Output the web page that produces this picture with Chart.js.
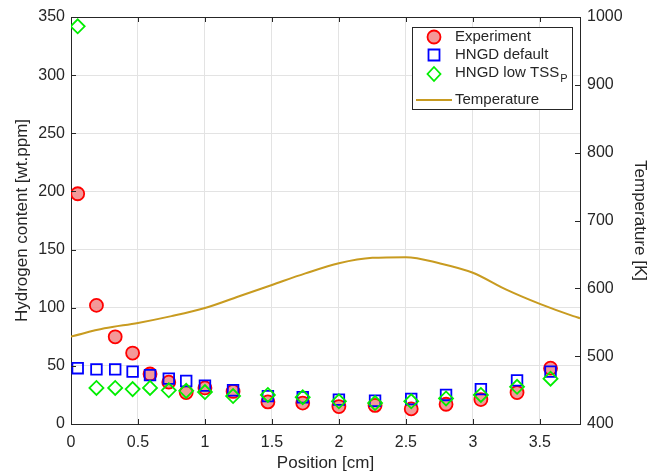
<!DOCTYPE html>
<html>
<head>
<meta charset="utf-8">
<script src="https://cdn.jsdelivr.net/npm/chart.js@4.4.1/dist/chart.umd.min.js"></script>
<style>
  body { margin: 0; background: #fff; }
  #wrap { width: 660px; height: 476px; }
</style>
</head>
<body>
<div id="wrap"><canvas id="chart" width="660" height="476"></canvas></div>
<script>
// positions along the sample [cm]
const positions = [0.05, 0.19, 0.33, 0.46, 0.59, 0.73, 0.86, 1.0, 1.21, 1.47, 1.73, 2.0, 2.27, 2.54, 2.80, 3.06, 3.33, 3.58];
// hydrogen content [wt.ppm]
const experiment = [198, 102, 75, 61, 43, 36, 27, 31, 28, 19, 18, 15, 16, 13, 17, 21, 27, 48];
const hngdDefault = [48, 47, 47, 45, 42, 39, 37, 33, 29, 24, 23, 21, 20, 21.5, 25, 30, 37.5, 45];
const hngdLowTss = [342, 31, 31, 30, 31, 29, 28.5, 27.5, 24, 25, 23, 19.5, 18, 19.5, 22, 25, 32, 39];

// temperature profile [K]
const tempX = [0, 0.25, 0.5, 0.75, 1.0, 1.25, 1.5, 1.75, 2.0, 2.25, 2.5, 2.75, 3.0, 3.25, 3.5, 3.75, 3.8];
const tempK = [529, 541, 549, 559, 571, 588, 605, 622, 637, 645, 646, 637, 623, 598, 577, 559, 556];

const xTicks = [0, 0.5, 1, 1.5, 2, 2.5, 3, 3.5];
const yTicks = [0, 50, 100, 150, 200, 250, 300, 350];
const y2Ticks = [400, 500, 600, 700, 800, 900, 1000];

const AXIS = '#262626';
const GRID = '#e3e3e3';
const TEMP_COLOR = '#c89b20';
const RED_FILL = 'rgba(240,128,128,0.8)';
const FONT = 'Liberation Sans, Arial, sans-serif';

const pts = ys => positions.map((x, i) => ({ x: x, y: ys[i] }));

// inward tick marks plus the top edge of the box
const boxTicks = {
  id: 'boxTicks',
  afterDraw(chart) {
    const { ctx, chartArea: a, scales } = chart;
    ctx.save();
    ctx.strokeStyle = AXIS;
    ctx.lineWidth = 1;
    ctx.beginPath();
    ctx.moveTo(a.left, a.top + 0.5);
    ctx.lineTo(a.right, a.top + 0.5);
    xTicks.forEach(v => {
      const px = Math.round(scales.x.getPixelForValue(v)) + 0.5;
      ctx.moveTo(px, a.bottom); ctx.lineTo(px, a.bottom - 5);
      ctx.moveTo(px, a.top); ctx.lineTo(px, a.top + 5);
    });
    yTicks.forEach(v => {
      const py = Math.round(scales.y.getPixelForValue(v)) + 0.5;
      ctx.moveTo(a.left, py); ctx.lineTo(a.left + 5, py);
    });
    y2Ticks.forEach(v => {
      const py = Math.round(scales.y2.getPixelForValue(v)) + 0.5;
      ctx.moveTo(a.right, py); ctx.lineTo(a.right - 5, py);
    });
    ctx.stroke();
    ctx.restore();
  }
};

function marker(ctx, style, x, y) {
  ctx.beginPath();
  if (style === 'circle') {
    ctx.arc(x, y, 6.5, 0, Math.PI * 2);
    ctx.fillStyle = RED_FILL;
    ctx.fill();
    ctx.strokeStyle = '#ff0000';
  } else if (style === 'rect') {
    ctx.rect(x - 5.5, y - 5.5, 11, 11);
    ctx.strokeStyle = '#0000ff';
  } else {
    ctx.moveTo(x, y - 7); ctx.lineTo(x + 6.5, y); ctx.lineTo(x, y + 7); ctx.lineTo(x - 6.5, y);
    ctx.closePath();
    ctx.strokeStyle = '#00ee00';
  }
  ctx.lineWidth = 1.8;
  ctx.stroke();
}

// legend box with the subscript in TSS_P
const legendBox = {
  id: 'legendBox',
  afterDraw(chart) {
    const ctx = chart.ctx;
    ctx.save();
    ctx.fillStyle = '#fff';
    ctx.fillRect(412, 27, 160, 82);
    ctx.strokeStyle = AXIS;
    ctx.lineWidth = 1;
    ctx.strokeRect(412.5, 27.5, 160, 82);

    marker(ctx, 'circle', 434, 37);
    marker(ctx, 'rect', 434, 55);
    marker(ctx, 'diamond', 434, 74);
    ctx.strokeStyle = TEMP_COLOR;
    ctx.lineWidth = 2;
    ctx.beginPath();
    ctx.moveTo(416, 100); ctx.lineTo(452, 100);
    ctx.stroke();

    ctx.fillStyle = AXIS;
    ctx.font = '15px ' + FONT;
    ctx.textBaseline = 'middle';
    ctx.fillText('Experiment', 455, 37);
    ctx.fillText('HNGD default', 455, 55);
    ctx.fillText('HNGD low TSS', 455, 73);
    const w = ctx.measureText('HNGD low TSS').width;
    ctx.font = '11px ' + FONT;
    ctx.fillText('P', 455 + w + 1, 79);
    ctx.font = '15px ' + FONT;
    ctx.fillText('Temperature', 455, 100);
    ctx.restore();
  }
};

const tickFont = { family: FONT, size: 16 };
const titleFont = { family: FONT, size: 17 };

new Chart(document.getElementById('chart'), {
  type: 'scatter',
  data: {
    datasets: [
      {
        label: 'HNGD low TSSP',
        data: pts(hngdLowTss),
        pointStyle: 'rectRot',
        pointRadius: 7,
        borderColor: '#00ee00',
        backgroundColor: 'rgba(0,0,0,0)',
        pointBorderWidth: 1.8,
        order: 0,
        yAxisID: 'y'
      },
      {
        label: 'HNGD default',
        data: pts(hngdDefault),
        pointStyle: 'rect',
        pointRadius: 7.5,
        borderColor: '#0000ff',
        backgroundColor: 'rgba(0,0,0,0)',
        pointBorderWidth: 1.8,
        order: 1,
        yAxisID: 'y'
      },
      {
        label: 'Experiment',
        data: pts(experiment),
        pointStyle: 'circle',
        pointRadius: 6.5,
        borderColor: '#ff0000',
        backgroundColor: RED_FILL,
        pointBorderWidth: 1.8,
        order: 2,
        yAxisID: 'y'
      },
      {
        type: 'line',
        label: 'Temperature',
        data: tempX.map((x, i) => ({ x: x, y: tempK[i] })),
        borderColor: TEMP_COLOR,
        borderWidth: 2,
        pointRadius: 0,
        cubicInterpolationMode: 'monotone',
        fill: false,
        order: 3,
        yAxisID: 'y2'
      }
    ]
  },
  options: {
    responsive: false,
    animation: false,
    layout: { padding: { top: 17, right: 0, left: 0, bottom: 0 } },
    plugins: { legend: { display: false }, tooltip: { enabled: false } },
    scales: {
      x: {
        type: 'linear',
        min: 0,
        max: 3.8,
        afterBuildTicks: s => { s.ticks = xTicks.map(v => ({ value: v })); },
        afterFit: s => { s.height = 52; },
        ticks: { color: AXIS, font: tickFont, padding: 9, maxRotation: 0, callback: v => String(v) },
        grid: { color: GRID, drawTicks: false },
        border: { color: AXIS, width: 1 },
        title: { display: true, text: 'Position [cm]', color: AXIS, font: titleFont, padding: { top: 0, bottom: 2 } }
      },
      y: {
        position: 'left',
        min: 0,
        max: 350,
        afterBuildTicks: s => { s.ticks = yTicks.map(v => ({ value: v })); },
        afterFit: s => { s.width = 71; },
        ticks: { color: AXIS, font: tickFont, padding: 6, callback: v => String(v) },
        grid: { color: GRID, drawTicks: false },
        border: { color: AXIS, width: 1 },
        title: { display: true, text: 'Hydrogen content [wt.ppm]', color: AXIS, font: titleFont, padding: { top: 12, bottom: 0 } }
      },
      y2: {
        position: 'right',
        min: 400,
        max: 1000,
        afterBuildTicks: s => { s.ticks = y2Ticks.map(v => ({ value: v })); },
        afterFit: s => { s.width = 80; },
        ticks: { color: AXIS, font: tickFont, padding: 7, callback: v => String(v) },
        grid: { drawOnChartArea: false, drawTicks: false },
        border: { color: AXIS, width: 1 },
        title: { display: true, text: 'Temperature [K]', color: AXIS, font: titleFont, padding: { top: 10, bottom: 0 } }
      }
    }
  },
  plugins: [boxTicks, legendBox]
});
</script>
</body>
</html>
